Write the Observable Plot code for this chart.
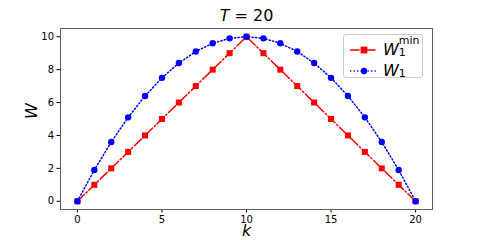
<!DOCTYPE html>
<html>
<head>
<meta charset="utf-8">
<script src="https://cdn.jsdelivr.net/npm/d3@7"></script>
<script src="https://cdn.jsdelivr.net/npm/@observablehq/plot@0.6"></script>
<style>
  html, body { margin: 0; padding: 0; background: #fff; }
  #wrap { position: relative; width: 480px; height: 240px; font-family: "DejaVu Sans", sans-serif; }
  #legend { position: absolute; left: 343px; top: 34px; width: 80px; height: 44px;
    border: 1px solid #cccccc; border-radius: 3px; background: rgba(255,255,255,0.8); box-sizing: border-box; }
  .lrow { position: absolute; left: 0; height: 20px; }
  .lsvg { position: absolute; left: 5px; top: 0; }
  .ltxt { position: absolute; left: 39px; font-size: 16px; line-height: 20px; font-style: italic; white-space: nowrap; }
  .stack { display: inline-block; position: relative; width: 22px; height: 10px; font-style: normal; }
  .stack .sup { position: absolute; left: 0; top: -10px; font-size: 11px; line-height: 11px; }
  .stack .sub { position: absolute; left: 0; top: 2px; font-size: 11px; line-height: 11px; }
</style>
</head>
<body>
<div id="wrap"></div>
<script>
const titleText = "T = 20";
const xLabel = "k";
const yLabel = "W";
const kValues = [0,1,2,3,4,5,6,7,8,9,10,11,12,13,14,15,16,17,18,19,20];
const wMin = [0,1,2,3,4,5,6,7,8,9,10,9,8,7,6,5,4,3,2,1,0];
const w1 = [0,1.9,3.6,5.1,6.4,7.5,8.4,9.1,9.6,9.9,10,9.9,9.6,9.1,8.4,7.5,6.4,5.1,3.6,1.9,0];
const xTicks = [0,5,10,15,20];
const yTicks = [0,2,4,6,8,10];
const seriesNames = ["W1min", "W1"];

const redData = kValues.map((k, i) => ({k, w: wMin[i]}));
const blueData = kValues.map((k, i) => ({k, w: w1[i]}));

const chart = Plot.plot({
  width: 480, height: 240,
  marginLeft: 60, marginRight: 48, marginTop: 28, marginBottom: 31,
  style: {fontFamily: "DejaVu Sans, sans-serif", fontSize: "10px", color: "#000", background: "#fff"},
  x: {domain: [-1, 21]},
  y: {domain: [-0.5, 10.5]},
  marks: [
    Plot.axisX({ticks: xTicks, tickSize: 3.5, tickPadding: 3, fontSize: 10, label: null, tickFormat: d => d}),
    Plot.axisY({ticks: yTicks, tickSize: 3.5, tickPadding: 3, fontSize: 10, label: null, tickFormat: d => d}),
    Plot.line(redData, {x: "k", y: "w", stroke: "red", strokeWidth: 1.5, strokeDasharray: "9.6,2.4,1.5,2.4"}),
    Plot.dot(redData, {x: "k", y: "w", symbol: "square", fill: "red", r: 3.4}),
    Plot.line(blueData, {x: "k", y: "w", stroke: "blue", strokeWidth: 1.5, strokeDasharray: "1.3,2.2"}),
    Plot.dot(blueData, {x: "k", y: "w", symbol: "circle", fill: "blue", r: 3.2}),
    Plot.frame({stroke: "#606060", strokeWidth: 1}),
    Plot.text([titleText], {frameAnchor: "top", lineAnchor: "middle", dy: -13, fontSize: 16, className: "ttl", text: d => d}),
    Plot.text([xLabel], {frameAnchor: "bottom", lineAnchor: "middle", dy: 21, fontSize: 16, fontStyle: "italic", text: d => d}),
    Plot.text([yLabel], {frameAnchor: "left", lineAnchor: "middle", dx: -29, rotate: -90, fontSize: 16, fontStyle: "italic", text: d => d})
  ]
});
document.getElementById("wrap").appendChild(chart);

// italic T in title
d3.select(chart).selectAll("g.ttl text").each(function() {
  const t = d3.select(this);
  const parts = this.textContent.split(" = ");
  t.text(null);
  t.append("tspan").attr("font-style", "italic").text(parts[0]);
  t.append("tspan").text(" = " + parts[1]);
});

// legend
const legend = document.createElement("div");
legend.id = "legend";
legend.innerHTML = `
  <div class="lrow" style="top:5px;width:80px">
    <svg class="lsvg" width="30" height="20"><line x1="1" y1="10" x2="29" y2="10" stroke="red" stroke-width="1.5" stroke-dasharray="9.6,2.4,1.5,2.4"/><rect x="11.6" y="6.6" width="6.8" height="6.8" fill="red"/></svg>
    <div class="ltxt" style="top:0px">W<span class="stack"><span class="sup">min</span><span class="sub">1</span></span></div>
  </div>
  <div class="lrow" style="top:26px;width:80px">
    <svg class="lsvg" width="30" height="20"><line x1="1" y1="10" x2="29" y2="10" stroke="blue" stroke-width="1.5" stroke-dasharray="1.3,2.2"/><circle cx="15" cy="10" r="3.2" fill="blue"/></svg>
    <div class="ltxt" style="top:0px">W<span class="stack" style="width:10px"><span class="sub">1</span></span></div>
  </div>`;
document.getElementById("wrap").appendChild(legend);
</script>
</body>
</html>
